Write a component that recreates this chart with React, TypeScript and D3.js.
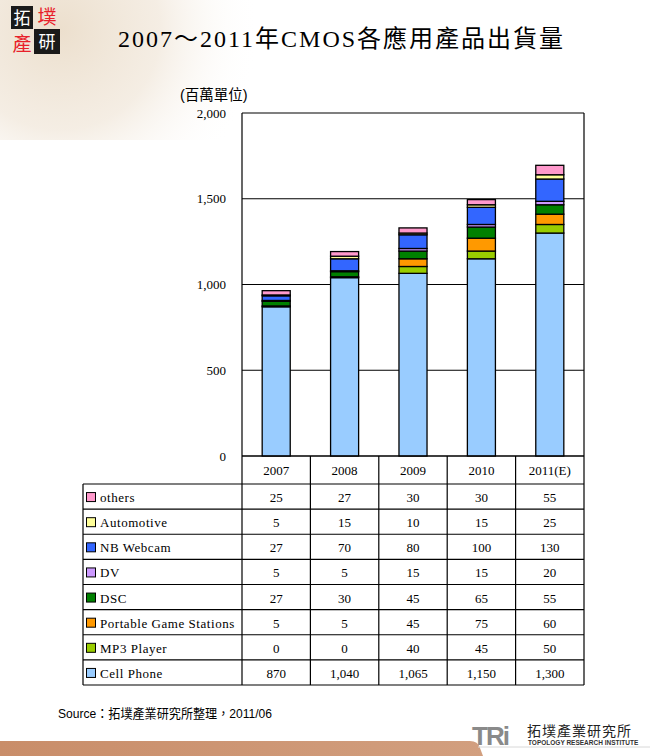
import React from "react";
import * as d3 from "d3";

const years = ["2007", "2008", "2009", "2010", "2011(E)"];
const seriesNames = [
  "Cell Phone",
  "MP3 Player",
  "Portable Game Stations",
  "DSC",
  "DV",
  "NB Webcam",
  "Automotive",
  "others",
];
const seriesColors = ["#99CCFF", "#99CC00", "#FF9900", "#008000", "#CC99FF", "#3366FF", "#FFFF99", "#FF99CC"];

const cellPhone = [870, 1040, 1065, 1150, 1300];
const mp3Player = [0, 0, 40, 45, 50];
const portableGame = [5, 5, 45, 75, 60];
const dsc = [27, 30, 45, 65, 55];
const dv = [5, 5, 15, 15, 20];
const nbWebcam = [27, 70, 80, 100, 130];
const automotive = [5, 15, 10, 15, 25];
const others = [25, 27, 30, 30, 55];

const yTicks = [0, 500, 1000, 1500, 2000];

const W = 650;
const H = 756;
const plot = { left: 242, right: 584, top: 113, bottom: 456 };
const tableLeft = 83;
const tableTop = 484;
const tableBottom = 685;

const serif = "'Liberation Serif', 'Times New Roman', serif";
const cjk = "'Liberation Serif', 'Noto Sans CJK TC', serif";
const sans = "'Liberation Sans', Arial, 'Noto Sans CJK TC', sans-serif";

export default function App() {
  const valuesBySeries = [cellPhone, mp3Player, portableGame, dsc, dv, nbWebcam, automotive, others];
  const rows = years.map((y, i) => {
    const r: any = { year: y };
    seriesNames.forEach((s, k) => (r[s] = valuesBySeries[k][i]));
    return r;
  });
  const stacked = d3.stack<any>().keys(seriesNames)(rows);

  const x = d3.scaleBand<string>().domain(years).range([plot.left, plot.right]).paddingInner(0).paddingOuter(0);
  const y = d3.scaleLinear().domain([0, 2000]).range([plot.bottom, plot.top]);
  const barW = x.bandwidth() * 0.41;

  const tableOrder = [...seriesNames].reverse();
  const rowY = d3.scaleBand<string>().domain(tableOrder).range([tableTop, tableBottom]);
  const fmt = d3.format(",");

  return (
    <svg width={W} height={H} style={{ position: "absolute", left: 0, top: 0, background: "#fff" }}>
      <defs>
        <radialGradient id="parch" cx="60" cy="30" r="200" gradientUnits="userSpaceOnUse">
          <stop offset="0" stopColor="#ecdfcd" stopOpacity="1" />
          <stop offset="0.5" stopColor="#f2e9dd" stopOpacity="0.8" />
          <stop offset="1" stopColor="#ffffff" stopOpacity="0" />
        </radialGradient>
        <linearGradient id="band" x1="0" x2="1" y1="0" y2="0">
          <stop offset="0" stopColor="#c98d69" />
          <stop offset="1" stopColor="#d29f7f" />
        </linearGradient>
      </defs>

      {/* decorative background */}
      <rect x={0} y={0} width={260} height={140} fill="url(#parch)" />
      <rect x={11} y={6} width={22} height={23} fill="#1a1a1a" />
      <rect x={34} y={29} width={26} height={25} fill="#1a1a1a" />
      <text x={22} y={24} textAnchor="middle" fontSize={17} fill="#fff" fontFamily="'Noto Sans CJK TC'">拓</text>
      <text x={47} y={24} textAnchor="middle" fontSize={19} fill="#e8202a" fontFamily="'Noto Sans CJK TC'">墣</text>
      <text x={22} y={51} textAnchor="middle" fontSize={19} fill="#e8202a" fontFamily="'Noto Sans CJK TC'">產</text>
      <text x={47} y={48} textAnchor="middle" fontSize={17} fill="#fff" fontFamily="'Noto Sans CJK TC'">研</text>

      {/* title */}
      <text x={118} y={47} fontSize={24} textLength={445} lengthAdjust="spacing" fontFamily={cjk} fill="#000">
        2007～2011年CMOS各應用產品出貨量
      </text>

      {/* unit */}
      <text x={180} y={100} fontSize={14.5} fontFamily={sans} fill="#000">(百萬單位)</text>

      {/* plot frame and gridlines */}
      {yTicks.map((t) => (
        <g key={t}>
          <line x1={plot.left} x2={plot.right} y1={y(t)} y2={y(t)} stroke="#000" strokeWidth={1.2} />
          <text x={226} y={y(t) + 4.5} textAnchor="end" fontSize={13} fontFamily={serif} fill="#000">
            {fmt(t)}
          </text>
        </g>
      ))}
      <line x1={plot.left} x2={plot.left} y1={plot.top} y2={plot.bottom} stroke="#000" strokeWidth={1.2} />
      <line x1={plot.right} x2={plot.right} y1={plot.top} y2={plot.bottom} stroke="#000" strokeWidth={1.2} />

      {/* bars */}
      {stacked.map((layer, k) => (
        <g key={layer.key}>
          {layer.map((d, i) => {
            const h = y(d[0]) - y(d[1]);
            if (h <= 0) return null;
            const cx = (x(years[i]) as number) + x.bandwidth() / 2;
            return (
              <rect
                key={i}
                x={cx - barW / 2}
                y={y(d[1])}
                width={barW}
                height={h}
                fill={seriesColors[k]}
                stroke="#000"
                strokeWidth={1.3}
              />
            );
          })}
        </g>
      ))}

      {/* data table */}
      {years.map((yr) => (
        <text
          key={yr}
          x={(x(yr) as number) + x.bandwidth() / 2}
          y={475}
          textAnchor="middle"
          fontSize={13}
          fontFamily={serif}
          fill="#000"
        >
          {yr}
        </text>
      ))}
      {tableOrder.map((s) => {
        const k = seriesNames.indexOf(s);
        const ry = rowY(s) as number;
        const mid = ry + rowY.bandwidth() / 2;
        return (
          <g key={s}>
            <rect x={86.5} y={mid - 4} width={9} height={9} fill={seriesColors[k]} stroke="#000" strokeWidth={1} />
            <text x={100} y={mid + 5.5} fontSize={13} letterSpacing={0.55} fontFamily={serif} fill="#000">
              {s}
            </text>
            {years.map((yr, i) => (
              <text
                key={yr}
                x={(x(yr) as number) + x.bandwidth() / 2}
                y={mid + 5.5}
                textAnchor="middle"
                fontSize={13}
                fontFamily={serif}
                fill="#000"
              >
                {fmt(valuesBySeries[k][i])}
              </text>
            ))}
          </g>
        );
      })}
      <g stroke="#000" strokeWidth={1.2} fill="none">
        {tableOrder.map((s) => (
          <line key={s} x1={tableLeft} x2={plot.right} y1={rowY(s) as number} y2={rowY(s) as number} />
        ))}
        <line x1={tableLeft} x2={plot.right} y1={tableBottom} y2={tableBottom} />
        <line x1={tableLeft} x2={tableLeft} y1={tableTop} y2={tableBottom} />
        {years.map((yr) => (
          <line key={yr} x1={x(yr) as number} x2={x(yr) as number} y1={plot.bottom} y2={tableBottom} />
        ))}
        <line x1={plot.right} x2={plot.right} y1={plot.bottom} y2={tableBottom} />
        <line x1={plot.left} x2={plot.right} y1={plot.bottom} y2={plot.bottom} />
      </g>

      {/* source */}
      <text x={58} y={718} fontSize={13} textLength={214} lengthAdjust="spacingAndGlyphs" fontFamily={sans} fill="#000">
        Source：拓墣產業研究所整理，2011/06
      </text>

      {/* bottom band and logo */}
      <path d="M0,741 L470,741 Q478,741 480,748 L483,756 L0,756 Z" fill="url(#band)" />
      <line x1={478} x2={650} y1={747} y2={747} stroke="#d8d8d8" strokeWidth={1} />
      <text x={472} y={745} fontSize={26} fontWeight="bold" fontFamily={sans} fill="#8a8a8a" letterSpacing={-2}>
        TRi
      </text>
      <text x={527} y={736} fontSize={14} fontFamily="'Noto Sans CJK TC'" fill="#222" letterSpacing={1}>
        拓墣產業研究所
      </text>
      <text x={528} y={745} fontSize={6.5} fontFamily={sans} fill="#333" fontWeight="bold">
        TOPOLOGY RESEARCH INSTITUTE
      </text>
    </svg>
  );
}
